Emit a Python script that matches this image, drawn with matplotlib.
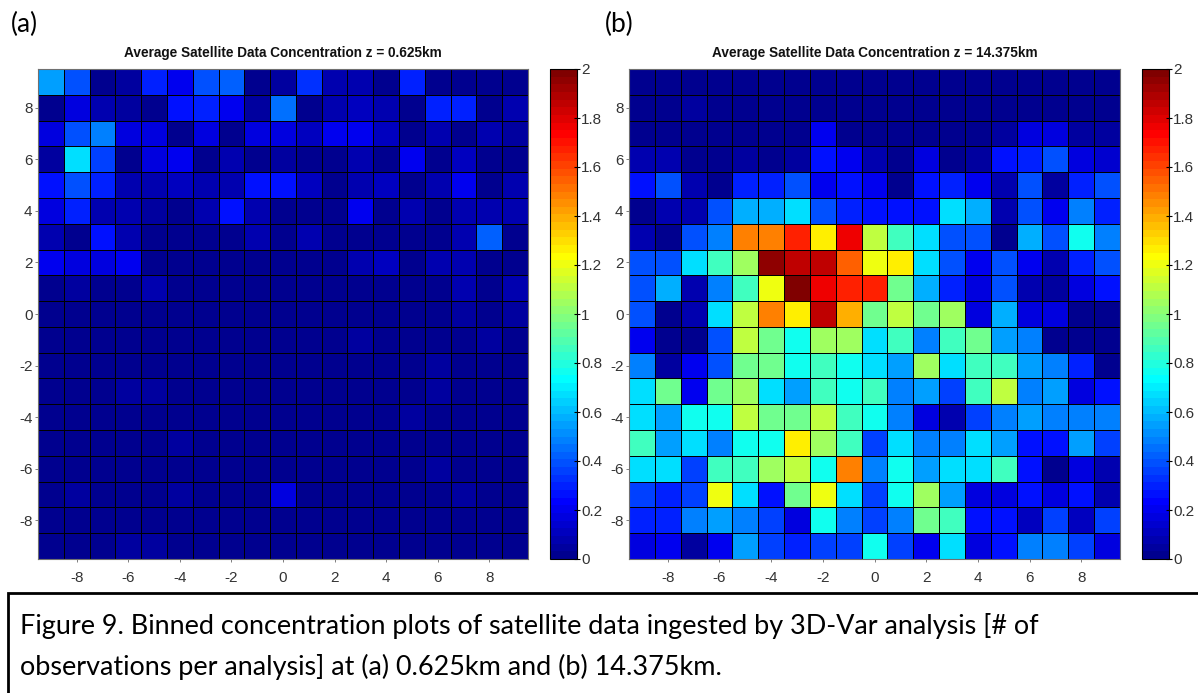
import numpy as np
import matplotlib
matplotlib.use("Agg")
import matplotlib.pyplot as plt
from matplotlib.colors import ListedColormap, Normalize
from matplotlib.patches import Rectangle
from matplotlib import font_manager

plt.rcParams["axes.unicode_minus"] = False

# ---------------- data (rows: y = 9 at top ... -9 at bottom; cols: x = -9 ... 9) ----------------
x_centers = list(range(-9, 10))
y_centers = list(range(9, -10, -1))
x_ticks = [-8, -6, -4, -2, 0, 2, 4, 6, 8]
y_ticks = [-8, -6, -4, -2, 0, 2, 4, 6, 8]
cbar_ticks = [0, 0.2, 0.4, 0.6, 0.8, 1.0, 1.2, 1.4, 1.6, 1.8, 2.0]
cbar_labels = ["0", "0.2", "0.4", "0.6", "0.8", "1", "1.2", "1.4", "1.6", "1.8", "2"]

titles = ["Average Satellite Data Concentration z = 0.625km",
          "Average Satellite Data Concentration z = 14.375km"]
tags = ["(a)", "(b)"]
caption_lines = ["Figure 9. Binned concentration plots of satellite data ingested by 3D-Var analysis [# of",
                 "observations per analysis] at (a) 0.625km and (b) 14.375km."]

conc_low = [
    [0.55, 0.40, 0.015, 0.05, 0.30, 0.21, 0.40, 0.42, 0.015, 0.05, 0.33, 0.07, 0.07, 0.015, 0.31, 0.015, 0.015, 0.015, 0.015],
    [0.03, 0.16, 0.07, 0.05, 0.015, 0.27, 0.30, 0.19, 0.05, 0.45, 0.02, 0.07, 0.10, 0.07, 0.03, 0.30, 0.30, 0.03, 0.07],
    [0.16, 0.40, 0.48, 0.17, 0.16, 0.03, 0.16, 0.02, 0.16, 0.17, 0.10, 0.19, 0.20, 0.10, 0.03, 0.07, 0.02, 0.07, 0.05],
    [0.05, 0.66, 0.37, 0.02, 0.16, 0.19, 0.03, 0.07, 0.03, 0.05, 0.02, 0.03, 0.07, 0.03, 0.19, 0.03, 0.10, 0.03, 0.02],
    [0.27, 0.40, 0.30, 0.07, 0.07, 0.10, 0.07, 0.07, 0.27, 0.28, 0.10, 0.03, 0.07, 0.10, 0.03, 0.07, 0.19, 0.03, 0.07],
    [0.17, 0.30, 0.07, 0.07, 0.05, 0.03, 0.07, 0.28, 0.07, 0.02, 0.03, 0.03, 0.19, 0.03, 0.07, 0.03, 0.07, 0.07, 0.07],
    [0.07, 0.02, 0.28, 0.07, 0.03, 0.03, 0.03, 0.03, 0.07, 0.03, 0.07, 0.03, 0.03, 0.03, 0.03, 0.03, 0.07, 0.42, 0.02],
    [0.19, 0.17, 0.17, 0.20, 0.02, 0.02, 0.02, 0.02, 0.02, 0.02, 0.02, 0.03, 0.07, 0.10, 0.02, 0.07, 0.07, 0.02, 0.02],
    [0.02, 0.05, 0.02, 0.02, 0.07, 0.02, 0.02, 0.02, 0.02, 0.02, 0.02, 0.02, 0.02, 0.02, 0.02, 0.02, 0.07, 0.02, 0.07],
    [0.015, 0.015, 0.015, 0.015, 0.015, 0.015, 0.015, 0.015, 0.015, 0.015, 0.015, 0.015, 0.015, 0.015, 0.015, 0.015, 0.05, 0.015, 0.05],
    [0.015, 0.015, 0.015, 0.015, 0.015, 0.015, 0.015, 0.015, 0.015, 0.015, 0.015, 0.015, 0.05, 0.015, 0.015, 0.015, 0.015, 0.05, 0.015],
    [0.015, 0.015, 0.015, 0.015, 0.015, 0.015, 0.015, 0.015, 0.015, 0.015, 0.015, 0.015, 0.015, 0.015, 0.015, 0.05, 0.015, 0.015, 0.015],
    [0.015, 0.015, 0.015, 0.05, 0.05, 0.015, 0.015, 0.015, 0.015, 0.015, 0.015, 0.015, 0.015, 0.015, 0.015, 0.05, 0.015, 0.015, 0.015],
    [0.015, 0.015, 0.015, 0.015, 0.015, 0.015, 0.015, 0.015, 0.015, 0.015, 0.015, 0.015, 0.015, 0.015, 0.05, 0.015, 0.015, 0.015, 0.015],
    [0.015, 0.015, 0.015, 0.015, 0.015, 0.05, 0.015, 0.015, 0.015, 0.015, 0.015, 0.015, 0.015, 0.015, 0.015, 0.015, 0.015, 0.015, 0.015],
    [0.015, 0.015, 0.015, 0.015, 0.015, 0.015, 0.015, 0.015, 0.015, 0.015, 0.015, 0.015, 0.015, 0.015, 0.015, 0.04, 0.015, 0.015, 0.015],
    [0.015, 0.05, 0.015, 0.015, 0.015, 0.05, 0.015, 0.015, 0.015, 0.17, 0.015, 0.015, 0.015, 0.015, 0.015, 0.015, 0.05, 0.015, 0.015],
    [0.015, 0.015, 0.015, 0.015, 0.015, 0.015, 0.015, 0.015, 0.015, 0.015, 0.015, 0.015, 0.015, 0.015, 0.015, 0.015, 0.015, 0.015, 0.015],
    [0.015, 0.015, 0.015, 0.05, 0.05, 0.015, 0.015, 0.015, 0.015, 0.015, 0.015, 0.015, 0.015, 0.015, 0.015, 0.015, 0.015, 0.015, 0.015],
]

conc_high = [
    [0.015, 0.015, 0.015, 0.015, 0.015, 0.015, 0.015, 0.015, 0.015, 0.015, 0.015, 0.015, 0.015, 0.015, 0.015, 0.015, 0.015, 0.015, 0.015],
    [0.015, 0.015, 0.06, 0.015, 0.015, 0.015, 0.015, 0.015, 0.015, 0.015, 0.015, 0.015, 0.015, 0.015, 0.015, 0.015, 0.015, 0.015, 0.015],
    [0.015, 0.015, 0.015, 0.015, 0.015, 0.015, 0.015, 0.19, 0.015, 0.015, 0.015, 0.015, 0.015, 0.015, 0.04, 0.17, 0.17, 0.06, 0.06],
    [0.07, 0.07, 0.02, 0.02, 0.06, 0.02, 0.06, 0.28, 0.19, 0.07, 0.02, 0.16, 0.02, 0.06, 0.27, 0.30, 0.40, 0.17, 0.15],
    [0.27, 0.40, 0.07, 0.02, 0.30, 0.30, 0.40, 0.19, 0.28, 0.19, 0.03, 0.27, 0.30, 0.19, 0.07, 0.40, 0.05, 0.30, 0.40],
    [0.02, 0.07, 0.07, 0.40, 0.57, 0.57, 0.66, 0.40, 0.30, 0.28, 0.28, 0.28, 0.66, 0.57, 0.07, 0.40, 0.19, 0.47, 0.30],
    [0.07, 0.03, 0.40, 0.48, 1.48, 1.48, 1.66, 1.26, 1.76, 1.12, 0.86, 0.66, 0.40, 0.40, 0.03, 0.57, 0.40, 0.75, 0.48],
    [0.40, 0.40, 0.66, 0.86, 1.05, 1.95, 1.86, 1.86, 1.56, 1.20, 1.26, 0.66, 0.40, 0.19, 0.40, 0.19, 0.07, 0.30, 0.40],
    [0.40, 0.57, 0.07, 0.47, 0.86, 1.20, 1.99, 1.76, 1.66, 1.66, 0.95, 0.57, 0.30, 0.17, 0.40, 0.07, 0.06, 0.17, 0.28],
    [0.40, 0.02, 0.07, 0.66, 1.10, 1.48, 1.26, 1.86, 1.38, 0.95, 1.10, 0.95, 1.05, 0.17, 0.57, 0.17, 0.17, 0.03, 0.02],
    [0.19, 0.02, 0.03, 0.40, 1.10, 0.95, 0.75, 1.05, 1.05, 0.66, 0.86, 0.47, 0.86, 0.95, 0.55, 0.47, 0.03, 0.02, 0.02],
    [0.47, 0.04, 0.19, 0.40, 0.95, 0.95, 0.75, 0.86, 0.75, 0.66, 0.55, 1.05, 0.66, 0.86, 0.86, 0.55, 0.47, 0.30, 0.03],
    [0.66, 0.95, 0.19, 0.95, 1.05, 0.66, 0.55, 0.86, 0.75, 0.86, 0.47, 0.55, 0.37, 0.86, 1.10, 0.47, 0.55, 0.17, 0.27],
    [0.66, 0.55, 0.75, 0.75, 1.10, 0.95, 0.95, 1.10, 0.86, 0.75, 0.47, 0.17, 0.07, 0.37, 0.47, 0.55, 0.47, 0.47, 0.47],
    [0.86, 0.55, 0.66, 0.47, 0.75, 0.75, 1.26, 1.05, 0.86, 0.37, 0.66, 0.47, 0.47, 0.66, 0.55, 0.28, 0.25, 0.55, 0.37],
    [0.66, 0.66, 0.37, 0.86, 0.86, 1.05, 1.10, 0.75, 1.48, 0.47, 0.75, 0.55, 0.66, 0.66, 0.86, 0.28, 0.02, 0.17, 0.07],
    [0.37, 0.30, 0.37, 1.20, 0.66, 0.27, 0.95, 1.20, 0.66, 0.37, 0.75, 1.05, 0.55, 0.17, 0.17, 0.27, 0.17, 0.27, 0.07],
    [0.30, 0.30, 0.47, 0.55, 0.47, 0.37, 0.17, 0.75, 0.47, 0.37, 0.47, 0.95, 0.86, 0.27, 0.27, 0.10, 0.37, 0.10, 0.37],
    [0.17, 0.19, 0.06, 0.19, 0.55, 0.37, 0.30, 0.37, 0.37, 0.75, 0.37, 0.19, 0.66, 0.17, 0.27, 0.47, 0.47, 0.37, 0.17],
]


# ---------------- helpers ----------------
def matlab_jet(m=64):
    n = int(np.ceil(m / 4))
    u = np.concatenate([np.arange(1, n + 1) / n, np.ones(n - 1), np.arange(n, 0, -1) / n])
    g = int(np.ceil(n / 2)) - (1 if m % 4 == 1 else 0) + np.arange(1, len(u) + 1)
    r = g + n
    b = g - n
    J = np.zeros((m, 3))
    for idx, c in ((r, 0), (g, 1), (b, 2)):
        mask = (idx >= 1) & (idx <= m)
        J[idx[mask] - 1, c] = u[mask]
    return J


def fam(name, fallback):
    try:
        font_manager.findfont(font_manager.FontProperties(family=name), fallback_to_default=False)
        return name
    except Exception:
        return fallback


W, H = 1198, 693
tick_font = fam("Liberation Sans Narrow", "Liberation Sans")
cap_font = fam("Lato", "DejaVu Sans")


def rect(x0, y0, x1, y1):
    return [x0 / W, 1 - y1 / H, (x1 - x0) / W, (y1 - y0) / H]


cmap = ListedColormap(matlab_jet(64))
norm = Normalize(vmin=0, vmax=2)
x_edges = np.array(x_centers, dtype=float)
x_edges = np.append(x_edges - 0.5, x_edges[-1] + 0.5)
y_edges = np.array(y_centers, dtype=float)
y_edges = np.append(y_edges + 0.5, y_edges[-1] - 0.5)

fig = plt.figure(figsize=(W / 100, H / 100), dpi=100)
fig.patch.set_facecolor("white")

layout = [
    dict(ax=(38, 69, 528, 559), cax=(550, 69, 577, 559), tag_x=11),
    dict(ax=(629, 69, 1120, 559), cax=(1142, 69, 1169, 559), tag_x=605),
]
datasets = [conc_low, conc_high]

for i, (lay, data) in enumerate(zip(layout, datasets)):
    ax = fig.add_axes(rect(*lay["ax"]))
    mesh = ax.pcolormesh(x_edges, y_edges, np.array(data), cmap=cmap, norm=norm,
                         edgecolors="k", linewidth=0.55)
    ax.set_xlim(-9.5, 9.5)
    ax.set_ylim(-9.5, 9.5)
    ax.set_xticks(x_ticks)
    ax.set_yticks(y_ticks)
    ax.tick_params(axis="both", direction="out", length=2.5, width=0.7, color="#808080",
                   labelsize=11, labelcolor="#333333")
    ax.tick_params(axis="x", pad=6)
    ax.tick_params(axis="y", pad=1.5)
    for lab in ax.get_xticklabels() + ax.get_yticklabels():
        lab.set_family(tick_font)
    for s in ax.spines.values():
        s.set_color("#707070")
        s.set_linewidth(0.8)

    cax = fig.add_axes(rect(*lay["cax"]))
    cb = fig.colorbar(mesh, cax=cax, ticks=cbar_ticks)
    cb.ax.set_yticklabels(cbar_labels)
    cb.outline.set_edgecolor("k")
    cb.outline.set_linewidth(0.8)
    cb.ax.tick_params(direction="inout", length=4, width=0.8, color="k",
                      labelsize=11, labelcolor="#333333", pad=1)
    for lab in cb.ax.get_yticklabels():
        lab.set_family(tick_font)

    x0, y0, x1, y1 = lay["ax"]
    fig.text(((x0 + x1) / 2) / W, 1 - 53 / H, titles[i], ha="center", va="center",
             family=tick_font, fontweight="bold", fontsize=9.8, color="#111111")
    fig.text(lay["tag_x"] / W, 1 - 24 / H, tags[i], ha="left", va="center",
             family=cap_font, fontsize=19, color="black")

# caption box
fig.patches.append(Rectangle((8 / W, -0.1), 1.2, (1 - 593 / H) + 0.1, transform=fig.transFigure,
                             facecolor="none", edgecolor="black", linewidth=2.0, clip_on=False))
t1 = fig.text(20 / W, 1 - 626 / H, caption_lines[0], ha="left", va="center",
              family=cap_font, fontsize=16.5, color="black")
t2 = fig.text(20 / W, 1 - 667 / H, caption_lines[1], ha="left", va="center",
              family=cap_font, fontsize=16.5, color="black")

# fit caption width to the reference line length
fig.canvas.draw()
r = fig.canvas.get_renderer()
w = t1.get_window_extent(r).width
target = 1020.0
fs = 16.5 * target / w
t1.set_fontsize(fs)
t2.set_fontsize(fs)

fig.savefig("out.png", dpi=100, facecolor="white")
